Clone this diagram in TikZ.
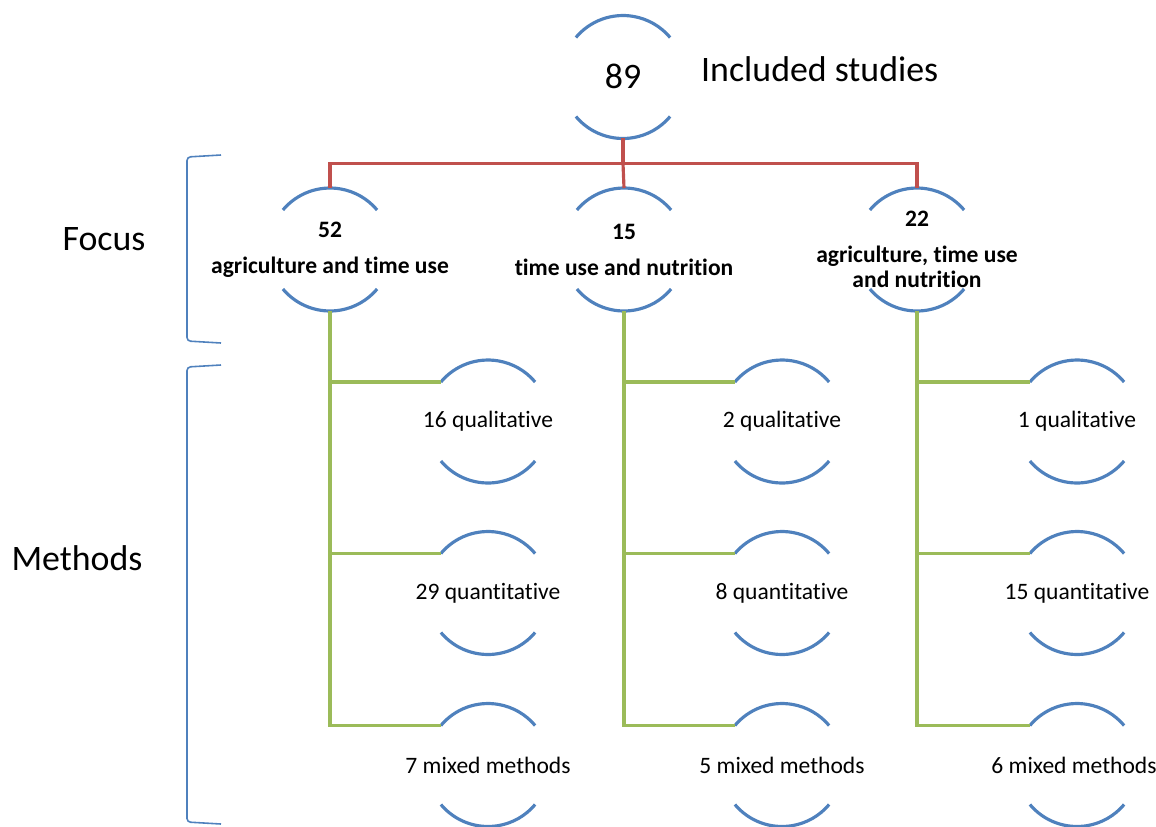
\documentclass[tikz,border=0pt]{standalone}
\usepackage{fontspec}
\setmainfont[Ligatures=NoCommon]{Carlito}
\definecolor{ringblue}{HTML}{4F81BD}
\definecolor{linkred}{HTML}{C0504D}
\definecolor{linkgreen}{HTML}{9BBB59}
\tikzset{
  ring/.style={circle,minimum size=2.46cm,inner sep=0pt,outer sep=0pt},
  arcline/.style={ringblue,line width=1.8pt},
  redlink/.style={linkred,line width=1.8pt},
  greenlink/.style={linkgreen,line width=1.8pt},
  bracket/.style={ringblue,line width=0.9pt,rounded corners=2pt},
  bigtext/.style={font=\fontsize{20.4}{24}\selectfont},
  focustext/.style={font=\bfseries\fontsize{13.4}{14.5}\selectfont,align=center},
  methodtext/.style={font=\fontsize{13.4}{16}\selectfont}
}
\begin{document}
\begin{tikzpicture}[x=0.02cm,y=0.02cm]
    \useasboundingbox (0,0) rectangle (1156,-826);
    % rings
    \node[ring] (top) at (623,-77) {};
    \node[ring] (f1) at (330,-249.5) {};
    \node[ring] (f2) at (624,-249.5) {};
    \node[ring] (f3) at (917,-249.5) {};
    \node[ring] (m11) at (488,-421.5) {};
    \node[ring] (m12) at (488,-593) {};
    \node[ring] (m13) at (488,-765) {};
    \node[ring] (m21) at (782,-421.5) {};
    \node[ring] (m22) at (782,-593) {};
    \node[ring] (m23) at (782,-765) {};
    \node[ring] (m31) at (1077,-421.5) {};
    \node[ring] (m32) at (1077,-593) {};
    \node[ring] (m33) at (1077,-765) {};
    \foreach \n in {top,f1,f2,f3,m11,m12,m13,m21,m22,m23,m31,m32,m33}
      \draw[arcline] (\n.140) arc (140:40:1.23cm) (\n.220) arc (220:320:1.23cm);
    % texts
    \node[bigtext,anchor=base] (ntop) at (623,-88) {89};
    \node[bigtext,anchor=base west] (title) at (695,-81) {Included studies};
    \node[focustext] (t1) at (f1) {52\\[6pt]agriculture and time use};
    \node[focustext] (t2) at (f2) {15\\[6pt]time use and nutrition};
    \node[focustext] (t3) at (f3) {22\\[6pt]agriculture, time use\\and nutrition};
    \node[methodtext] (t11) at (m11) {16 qualitative};
    \node[methodtext] (t12) at (m12) {29 quantitative};
    \node[methodtext] (t13) at (m13) {7 mixed methods};
    \node[methodtext] (t21) at (m21) {2 qualitative};
    \node[methodtext] (t22) at (m22) {8 quantitative};
    \node[methodtext] (t23) at (m23) {5 mixed methods};
    \node[methodtext] (t31) at (m31) {1 qualitative};
    \node[methodtext] (t32) at (m32) {15 quantitative};
    \node[methodtext,xshift=-0.06cm] (t33) at (m33) {6 mixed methods};
    % red tree
    \draw[redlink] (top.south) -- ++(0,-25) coordinate (split);
    \draw[redlink] (split) -| (f1.north);
    \draw[redlink] (split) -| (f3.north);
    \draw[redlink] (split) -- (f2.north);
    % green trees
    \draw[greenlink] (f1.south) |- (m13.140);
    \draw[greenlink] (f1.south |- m11.140) -- (m11.140);
    \draw[greenlink] (f1.south |- m12.140) -- (m12.140);
    \draw[greenlink] (f2.south) |- (m23.140);
    \draw[greenlink] (f2.south |- m21.140) -- (m21.140);
    \draw[greenlink] (f2.south |- m22.140) -- (m22.140);
    \draw[greenlink] (f3.south) |- (m33.140);
    \draw[greenlink] (f3.south |- m31.140) -- (m31.140);
    \draw[greenlink] (f3.south |- m32.140) -- (m32.140);
    % brackets
    \draw[bracket] (221,-155) -- (187,-157) -- (187,-341) -- (221,-343);
    \node[bigtext] (focus) at (104,-239) {Focus};
    \draw[bracket] (221,-365) -- (187,-367) -- (187,-822) -- (221,-824);
    \node[bigtext] (methods) at (77,-558) {Methods};
\end{tikzpicture}
\end{document}
